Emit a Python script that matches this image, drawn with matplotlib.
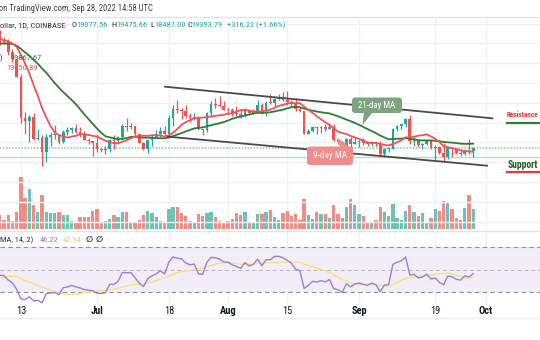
import numpy as np
import pandas as pd
import matplotlib
matplotlib.use("Agg")
import matplotlib.pyplot as plt
from matplotlib import font_manager
from matplotlib.patches import FancyBboxPatch, Polygon

# ---------------- data (BTC/USD, Coinbase, 1D) ----------------
start_date = "2022-06-08"
prior_close = [41380, 40480, 39710, 39450, 39450, 40430, 38110, 39240, 39740, 38600, 37640,
               38470, 38520, 37720, 39690, 36550, 36010, 35470, 34060, 30090, 31010, 28940,
               29030, 29280, 30090, 31320, 29830, 30450, 28720, 30310, 29200, 29430, 30290,
               29110, 29650, 29540, 29190, 28630, 29030, 29470, 31730, 31800,
               29800, 30450, 29700, 29860, 29900, 31370, 31130]

open_ = [31130, 30200, 30110, 29090, 28420, 26590, 22490, 22130, 22580, 20380, 20470, 19000, 20560,
         20710, 20730, 19980, 21090, 21230, 21490, 21030, 20730, 20280, 20110, 19930, 19290, 19250,
         19310, 20230, 20180, 20550, 21620, 21580, 21600, 20860, 19970, 19330, 20220, 20580, 20830,
         21190, 20790, 22430, 23400, 23230, 23160, 22690, 22460, 22580, 21310, 21250, 22950, 23840,
         23780, 23640, 23300, 23270, 22990, 22820, 22620, 23310, 22960, 23170, 23810, 23150, 23950,
         23940, 24400, 24440, 24310, 24110, 23860, 23340, 23200, 20830, 21140, 21520, 21400, 21530,
         21370, 21570, 20240, 20040, 19550, 20290, 19800, 20050, 20130, 19950, 19830, 19990, 19800,
         18790, 19290, 19320, 21370, 21650, 21830, 22400, 20170, 20230, 19700, 19800, 20110, 19420,
         19540, 18880, 18480, 19410, 19290, 18930, 18800, 19230, 19077.56]
high = [31330, 30650, 30390, 29440, 28560, 26890, 23040, 22760, 22980, 21360, 20760, 20800, 21000,
        21700, 20860, 21200, 21500, 21590, 21860, 21520, 21180, 20420, 20140, 20870, 19400, 19630,
        20300, 20700, 20670, 21810, 22500, 21950, 21610, 20870, 20050, 20250, 20880, 21200, 21590,
        21680, 22720, 23780, 24270, 23430, 23760, 22990, 23000, 22670, 21340, 23100, 24190, 24440,
        24650, 24190, 23510, 23460, 23650, 23220, 23450, 23360, 23390, 24240, 23920, 24210, 24920,
        24460, 24890, 25050, 25210, 24250, 24450, 23600, 23210, 21360, 21680, 21520, 21670, 21810,
        21820, 21860, 20340, 20150, 20420, 20570, 20490, 20200, 20440, 19960, 20000, 20050, 20180,
        19460, 19450, 21450, 21790, 21850, 22490, 22800, 20560, 20330, 19880, 20190, 20110, 19680,
        19630, 19960, 19480, 19490, 19320, 19180, 19310, 20380, 19475.66]
low = [29850, 29950, 28850, 28100, 26560, 21925, 20850, 20070, 20250, 20250, 17600, 18000, 19640,
       20350, 19790, 19900, 20740, 20900, 20980, 20520, 20190, 19850, 18630, 19000, 18980, 18780,
       19050, 19330, 19780, 20250, 21190, 21330, 20660, 19900, 19250, 18900, 19630, 20390, 20500,
       20770, 20760, 21680, 22960, 22360, 22490, 22020, 22280, 21290, 20710, 21040, 22580, 23420,
       23540, 23230, 22850, 22660, 22690, 22440, 22590, 22930, 22850, 23150, 22880, 22690, 23900,
       23590, 24290, 24160, 23790, 23690, 23180, 23090, 20790, 20800, 21070, 20880, 20900, 21150,
       21310, 20110, 19800, 19530, 19540, 19540, 19800, 19570, 19760, 19650, 19600, 19640, 18650,
       18540, 19020, 19300, 21110, 21370, 21550, 19860, 19620, 19500, 19320, 19760, 19370, 18240,
       18770, 18130, 18360, 18560, 18800, 18640, 18680, 18840, 18487.00]
close = [30200, 30110, 29090, 28420, 26590, 22490, 22130, 22580, 20380, 20470, 19000, 20560, 20710,
         20730, 19980, 21090, 21230, 21490, 21030, 20730, 20280, 20110, 19930, 19290, 19250, 19310,
         20230, 20180, 20550, 21620, 21580, 21600, 20860, 19970, 19330, 20220, 20580, 20830, 21190,
         20790, 22430, 23400, 23230, 23160, 22690, 22460, 22580, 21310, 21250, 22950, 23840, 23780,
         23640, 23300, 23270, 22990, 22820, 22620, 23310, 22960, 23170, 23810, 23150, 23950, 23940,
         24400, 24440, 24310, 24110, 23860, 23340, 23200, 20830, 21140, 21520, 21400, 21530, 21370,
         21570, 20240, 20040, 19550, 20290, 19800, 20050, 20130, 19950, 19830, 19990, 19800, 18790,
         19290, 19320, 21370, 21650, 21830, 22400, 20170, 20230, 19700, 19800, 20110, 19420, 19540,
         18880, 18480, 19410, 19290, 18930, 18800, 19230, 19080, 19393.79]
volume = [14, 9, 14, 8, 17, 52, 31, 40, 24, 17, 34, 17, 16, 16, 17, 14, 14, 8, 6, 12, 12, 12, 18,
          20, 7, 8, 10, 14, 12, 17, 17, 7, 7, 9, 14, 18, 16, 12, 8, 7, 20, 22, 22, 16, 13, 8, 6,
          15, 13, 16, 17, 12, 8, 6, 8, 10, 16, 14, 17, 6, 6, 15, 15, 17, 19, 12, 9, 16, 18, 13,
          15, 9, 30, 14, 10, 17, 15, 15, 11, 24, 15, 11, 22, 30, 24, 15, 13, 6, 7, 9, 22, 17, 13,
          25, 11, 9, 18, 24, 17, 13, 16, 7, 11, 20, 18, 28, 27, 20, 11, 9, 21, 34, 20]

# drawn trend channel (day index, price)
channel_upper_x = [39.1, 116.5]
channel_upper_y = [25616, 22424]
channel_lower_x = [39.8, 115.3]
channel_lower_y = [20566, 17636]
support_level = 18515

tick_dates = ["2022-06-13", "2022-07-01", "2022-07-18", "2022-08-01",
              "2022-08-15", "2022-09-01", "2022-09-19", "2022-10-01"]
tick_labels = ["13", "Jul", "18", "Aug", "15", "Sep", "19", "Oct"]
tick_bold = [False, True, False, True, False, True, False, True]

header_text = "on TradingView.com, Sep 28, 2022 14:58 UTC"
symbol_text = "ollar, 1D, COINBASE"
ohlc_labels = [("O", "19077.56"), ("H", "19475.66"), ("L", "18487.00"), ("C", "19393.79")]
change_text = "+316.22 (+1.66%)"
ma21_value_text = "19867.67"
ma9_value_text = "19050.89"
rsi_legend_text = "MA, 14, 2)"
rsi_value_text = "46.22"
rsi_ma_value_text = "42.34"

# ---------------- derived indicators ----------------
open_ = np.array(open_, float); high = np.array(high, float)
low = np.array(low, float); close = np.array(close, float)
volume = np.array(volume, float)
n = len(close)
npre = len(prior_close)
allc = pd.Series(list(prior_close) + list(close))
sma9 = allc.rolling(9).mean().values[npre:]
sma21 = allc.rolling(21).mean().values[npre:]
d = allc.diff()
up = d.clip(lower=0).ewm(alpha=1/14, adjust=False).mean()
dn = (-d).clip(lower=0).ewm(alpha=1/14, adjust=False).mean()
rsi_all = 100 - 100 / (1 + up / dn)
rsi_ma_all = rsi_all.rolling(14).mean()
rsi = rsi_all.values[npre:]
rsi_ma = rsi_ma_all.values[npre:]

x = np.arange(n)
t0 = pd.Timestamp(start_date)
tick_pos = [(pd.Timestamp(t) - t0).days for t in tick_dates]

# ---------------- style ----------------
TEAL = "#26a69a"; RED = "#ef5350"
VTEAL = "#6cc3b4"; VRED = "#f38b85"
GRID = "#eff1f5"
TXT = "#2f323a"
names = {f.name for f in font_manager.fontManager.ttflist}
UI = next((f for f in ["Roboto Condensed", "Liberation Sans Narrow", "Open Sans Condensed",
                       "Roboto"] if f in names), "DejaVu Sans")
FAM = [UI, "DejaVu Sans"]
plt.rcParams["font.family"] = FAM

W, H = 540, 340
fig = plt.figure(figsize=(5.4, 3.4), dpi=100)
fig.patch.set_facecolor("white")


def rect(x0, y0, x1, y1):
    return [x0 / W, 1 - y1 / H, (x1 - x0) / W, (y1 - y0) / H]


PX_DAY = 4.227
XL = 23 - 97 / PX_DAY
XLIM = (XL, XL + W / PX_DAY)
# price scale calibration: last close at row 148.3, 9.9 px per 1000
REF_P, REF_ROW, K = 19394.0, 148.3, 0.0099
P_TOP, P_BOT = 17, 229
ylim_price = (REF_P - (P_BOT - REF_ROW) / K, REF_P + (REF_ROW - P_TOP) / K)


def clean(ax):
    for s in ax.spines.values():
        s.set_visible(False)
    ax.set_xticks([]); ax.set_yticks([])


# volume (behind)
axv = fig.add_axes(rect(0, P_TOP, W, P_BOT), zorder=1)
axv.set_facecolor("white")
clean(axv)
axv.set_xlim(*XLIM)
axv.set_ylim(0, P_BOT - P_TOP)
upm = close >= open_
for tp in tick_pos:
    axv.axvline(tp, color=GRID, lw=1, zorder=0)
axv.bar(x, volume, width=0.78, color=np.where(upm, VTEAL, VRED), zorder=2, linewidth=0)

# price
axp = fig.add_axes(rect(0, P_TOP, W, P_BOT), zorder=2)
axp.patch.set_visible(False)
clean(axp)
axp.set_xlim(*XLIM)
axp.set_ylim(*ylim_price)
for p in range(12000, 34001, 2000):
    axp.axhline(p, color=GRID, lw=1, zorder=0)
axp.axhline(support_level, color="#b7dfb9", lw=1, zorder=1)
axp.axhline(close[-1], color="#86cc8c", lw=1.1, ls=(0, (1, 1)), zorder=1)
cc = np.where(upm, TEAL, RED)
axp.vlines(x, low, high, colors=cc, lw=0.9, zorder=3)
body = np.maximum(np.abs(close - open_), 90)
axp.bar(x, body, bottom=np.minimum(open_, close), width=0.64, color=cc, zorder=4, linewidth=0)
axp.plot(x, sma21, color="#2e7d32", lw=1.3, zorder=5)
axp.plot(x, sma9, color="#f0525a", lw=1.3, zorder=6)
axp.plot(channel_upper_x, channel_upper_y, color="#4a4a4a", lw=1.3, zorder=7)
axp.plot(channel_lower_x, channel_lower_y, color="#4a4a4a", lw=1.3, zorder=7)

# RSI pane
R_TOP, R_BOT = 231, 305
ax_r = fig.add_axes(rect(0, R_TOP, W, R_BOT), zorder=2)
ax_r.set_facecolor("white")
for s in ax_r.spines.values():
    s.set_visible(False)
ax_r.set_xlim(*XLIM)
ROW70, PXU = 247.3, 1.11
ax_r.set_ylim(30 - (R_BOT - (ROW70 + 40 * PXU)) / PXU, 70 + (ROW70 - R_TOP) / PXU)
ax_r.set_yticks([])
for tp in tick_pos:
    ax_r.axvline(tp, color=GRID, lw=1, zorder=0)
ax_r.axhspan(30, 70, color="#f1edf9", zorder=0.5, lw=0)
ax_r.axhline(70, color="#8d909a", lw=0.8, ls=(0, (4, 3)), zorder=1)
ax_r.axhline(30, color="#8d909a", lw=0.8, ls=(0, (4, 3)), zorder=1)
ax_r.axhline(50, color="#b6b8c0", lw=0.7, ls=(0, (4, 3)), zorder=1)
ax_r.plot(x, rsi_ma, color="#f5e27a", lw=1.0, zorder=2)
ax_r.plot(x, rsi, color="#9b7fd8", lw=1.0, zorder=3)
ax_r.set_xticks(tick_pos)
ax_r.set_xticklabels(tick_labels)
ax_r.tick_params(axis="x", length=0, pad=1.0, labelsize=7.5, colors="#131722")
for lab, b in zip(ax_r.get_xticklabels(), tick_bold):
    lab.set_fontweight("bold" if b else "normal")

# overlay
ov = fig.add_axes([0, 0, 1, 1], zorder=10)
ov.set_xlim(0, W); ov.set_ylim(H, 0)
ov.axis("off"); ov.patch.set_visible(False)
renderer = fig.canvas.get_renderer()

ov.plot([0, W], [16.5, 16.5], color="#e0e3eb", lw=1)
ov.plot([0, W], [230.5, 230.5], color="#e0e3eb", lw=1)
ov.plot([0, W], [317.5, 317.5], color="#eceef2", lw=1)


def put(xp, yp, s, color, fs, weight="normal", ha="left"):
    return ov.text(xp, yp, s, color=color, fontsize=fs, fontweight=weight, ha=ha,
                   va="center", family=FAM)


def fit(xp, yp, s, width, color, weight="normal", ha="left"):
    t = put(xp, yp, s, color, 10, weight, ha)
    w = t.get_window_extent(renderer).width
    t.set_fontsize(10 * width / w)
    return t


def fitsize(s, width, weight="normal"):
    t = put(0, 0, s, "k", 10, weight)
    w = t.get_window_extent(renderer).width
    t.remove()
    return 10 * width / w


def width_of(t):
    return t.get_window_extent(renderer).width


# header
fit(-1, 8.5, header_text, 154, "#3f424a")
fs2 = fitsize(symbol_text, 66)
put(0, 25, symbol_text, TXT, fs2)
for (letter, val), xp in zip(ohlc_labels, [71, 111, 150, 187]):
    t = put(xp, 25, letter, TXT, fs2)
    put(xp + width_of(t), 25, val, TEAL, fs2)
put(227, 25, change_text, TEAL, fs2)

# MA legend values
put(0, 58, ")", TXT, fs2)
put(10, 58, ma21_value_text, "#2e7d32", fs2)
put(6, 68, ma9_value_text, "#f0525a", fs2)

# RSI legend
put(0, 240, rsi_legend_text, TXT, fs2)
put(40, 240, rsi_value_text, "#9575cd", fs2)
put(63, 240, rsi_ma_value_text, "#e8d04a", fs2)
put(86, 240, "\u2205", TXT, fs2, weight="bold")
put(96, 240, "\u2205", TXT, fs2, weight="bold")

# callouts
g_col = "#7ea381"
ov.add_patch(Polygon([[364, 112], [373, 112], [362.5, 125]], closed=True, fc=g_col, ec="none"))
ov.add_patch(FancyBboxPatch((352, 97.5), 50, 15.5, boxstyle="round,pad=0,rounding_size=3",
                            fc=g_col, ec="none"))
fit(377, 105.5, "21-day MA", 37, "white", ha="center")
p_col = "#f08c8c"
ov.add_patch(Polygon([[340, 147.5], [350, 147.5], [336.5, 137]], closed=True, fc=p_col, ec="none"))
ov.add_patch(FancyBboxPatch((307, 146.5), 46, 18.5, boxstyle="round,pad=0,rounding_size=3",
                            fc=p_col, ec="none"))
fit(330, 156, "9-day MA", 34, "white", ha="center")

# resistance / support labels (kept fully inside the picture)
fit(507, 115, "Resistance", 32, "#e53935", weight="bold")
ov.plot([507, W], [123.3, 123.3], color="#2e7d32", lw=1.6)
fit(508, 164.5, "Support", 30, "#1b5e20", weight="bold")
ov.plot([507, W], [172.3, 172.3], color="#e53935", lw=1.6)

fig.savefig("out.png", dpi=100, facecolor="white")
